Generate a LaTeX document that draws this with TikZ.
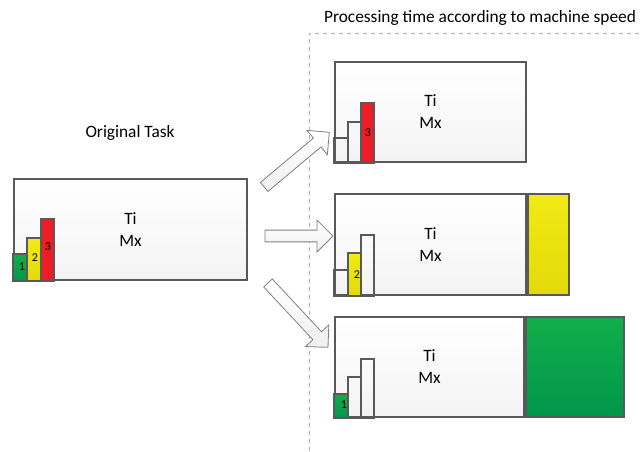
\documentclass[tikz,border=0pt]{standalone}
\usepackage{fontspec}
\setmainfont{Carlito}
\usetikzlibrary{shapes.arrows}

\definecolor{lineg}{HTML}{595959}
\definecolor{arrowg}{HTML}{808080}
\definecolor{grn}{HTML}{12AE4A}
\definecolor{grndk}{HTML}{00964A}
\definecolor{ylw}{HTML}{F2EA12}
\definecolor{ylwdk}{HTML}{E2DA0C}
\definecolor{rd}{HTML}{EE1C25}

\tikzset{
  box/.style={draw=lineg, line width=1.5pt, top color=white, bottom color=gray!9,
    align=center, inner sep=0pt, font=\fontsize{13}{16.5}\selectfont},
  bar/.style={draw=lineg, line width=1.2pt},
  num/.style={font=\fontsize{9}{9}\selectfont, inner sep=0pt},
  bigarrow/.style={single arrow, draw=arrowg, line width=0.6pt, top color=white,
    bottom color=gray!12, single arrow head extend=7.5pt,
    inner xsep=0pt, inner ysep=4.1pt, single arrow tip angle=90},
}

\begin{document}
\begin{tikzpicture}[x=0.75pt,y=-0.75pt]
\useasboundingbox (0,0) rectangle (641,451);

% dashed frame
\draw[gray!60, dashed, line width=0.5pt] (309,451) -- (309,33) -- (641,33);
\node (head) at (480,18) {\fontsize{13}{15}\selectfont Processing time according to machine speed};
\node (title) at (130,133) {\fontsize{13}{15}\selectfont Original Task};

% original task
\node[box, minimum width=174.75pt, minimum height=75.75pt] (orig) at (130.5,229.5) {Ti\\Mx};
\draw[bar, top color=grn, bottom color=grndk] (orig.south west) rectangle ++(14,-27);
\draw[bar, top color=ylw, bottom color=ylwdk] ([xshift=10.5pt]orig.south west) rectangle ++(14,-43);
\draw[bar, fill=rd] ([xshift=21pt]orig.south west) rectangle ++(13,-62);
\node[num] (n1) at (22,267) {1};
\node[num] (n2) at (35,258) {2};
\node[num] (n3) at (48,247) {3};

% fast machine
\node[box, minimum width=143.25pt, minimum height=75pt] (fast) at (430.5,112) {Ti\\Mx};
\draw[bar] (fast.south west) rectangle ++(14,-25);
\draw[bar] ([xshift=10.5pt]fast.south west) rectangle ++(13,-41);
\draw[bar, fill=rd] ([xshift=20.25pt]fast.south west) rectangle ++(13,-60);
\node[num] (f3) at (368,133) {3};

% medium machine
\node[box, minimum width=143.25pt, minimum height=75.75pt] (mid) at (430.5,244.5) {Ti\\Mx};
\node[draw=lineg, line width=1.5pt, top color=ylw, bottom color=ylwdk, inner sep=0pt,
  minimum width=30.75pt, minimum height=75.75pt, anchor=west] (midx) at (mid.east) {};
\draw[bar] (mid.south west) rectangle ++(14,-26);
\draw[bar, top color=ylw, bottom color=ylwdk] ([xshift=10.5pt]mid.south west) rectangle ++(13,-43);
\draw[bar] ([xshift=20.25pt]mid.south west) rectangle ++(13,-61);
\node[num] (m2) at (357,275) {2};

% slow machine
\node[box, minimum width=141.75pt, minimum height=75pt] (slow) at (429.5,367) {Ti\\Mx};
\node[draw=lineg, line width=1.5pt, top color=grn, bottom color=grndk, inner sep=0pt,
  minimum width=73.5pt, minimum height=75pt, anchor=west] (slowx) at (slow.east) {};
\draw[bar, top color=grn, bottom color=grndk] (slow.south west) rectangle ++(14,-24);
\draw[bar] ([xshift=10.5pt]slow.south west) rectangle ++(13,-41);
\draw[bar] ([xshift=20.25pt]slow.south west) rectangle ++(13,-59);
\node[num] (s1) at (344,405) {1};

% block arrows
\node[bigarrow, minimum height=63.75pt, rotate=40] (a1) at (294.5,161.5) {};
\node[bigarrow, minimum height=51pt] (a2) at (296,236) {};
\node[bigarrow, minimum height=66pt, rotate=-47] (a3) at (296,313) {};

\end{tikzpicture}
\end{document}
